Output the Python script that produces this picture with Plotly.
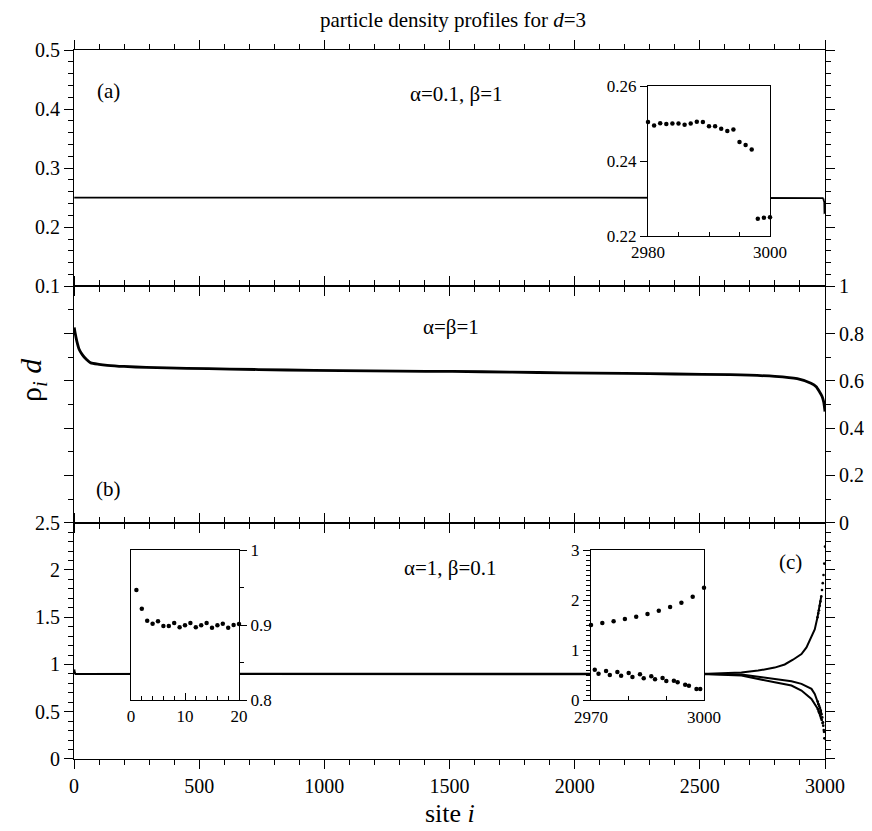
import plotly.graph_objects as go

# ---------------- data ----------------
# panel (a): alpha=0.1, beta=1 (coarse bulk samples) + inset (last 21 sites)
a_bulk_site = [1, 300, 600, 900, 1200, 1500, 1800, 2100, 2400, 2700, 2979]
a_bulk_rho = [0.2500, 0.2502, 0.2499, 0.2501, 0.2500, 0.2499, 0.2501, 0.2500, 0.2499, 0.2501, 0.2500]
a_inset_site = [2980, 2981, 2982, 2983, 2984, 2985, 2986, 2987, 2988, 2989, 2990,
                2991, 2992, 2993, 2994, 2995, 2996, 2997, 2998, 2999, 3000]
a_inset_rho = [0.2504, 0.2495, 0.2501, 0.2499, 0.2500, 0.2500, 0.2497, 0.2500, 0.2505, 0.2504, 0.2493,
               0.2493, 0.2486, 0.2480, 0.2484, 0.2451, 0.2443, 0.2431, 0.2246, 0.2249, 0.2250]

# panel (b): alpha=beta=1
b_site = [1, 5, 11, 20, 33, 50, 67, 100, 133, 200, 289, 450, 622, 850, 1067, 1300, 1511, 1750, 1956,
          2200, 2400, 2622, 2800, 2889, 2944, 2965, 2978, 2988, 2995, 3000]
b_rho = [0.826, 0.800, 0.769, 0.735, 0.711, 0.690, 0.676, 0.670, 0.666, 0.661, 0.657, 0.653, 0.650,
         0.646, 0.643, 0.641, 0.640, 0.637, 0.634, 0.632, 0.629, 0.626, 0.619, 0.609, 0.590, 0.575,
         0.554, 0.535, 0.510, 0.470]

# panel (c): alpha=1, beta=0.1 -- inset near site 0
c_left_site = list(range(1, 21))
c_left_rho = [0.9467, 0.9218, 0.9058, 0.9018, 0.9049, 0.8987, 0.8987, 0.9027, 0.8969, 0.8996,
              0.9027, 0.8969, 0.8996, 0.9027, 0.8964, 0.8996, 0.9018, 0.8964, 0.9000, 0.9013]
# panel (c): three sub-lattices near the right end (inset c)
c_up_end_site = [2970, 2973, 2976, 2979, 2982, 2985, 2988, 2991, 2994, 2997, 3000]
c_up_end_rho = [1.500, 1.540, 1.573, 1.620, 1.667, 1.720, 1.787, 1.860, 1.947, 2.067, 2.247]
c_mid_end_site = [2971, 2974, 2977, 2980, 2983, 2986, 2989, 2992, 2995, 2998]
c_mid_end_rho = [0.607, 0.580, 0.560, 0.540, 0.513, 0.473, 0.440, 0.387, 0.307, 0.220]
c_low_end_site = [2972, 2975, 2978, 2981, 2984, 2987, 2990, 2993, 2996, 2999]
c_low_end_rho = [0.527, 0.500, 0.487, 0.460, 0.433, 0.413, 0.380, 0.353, 0.287, 0.220]
# panel (c): bulk of the three sub-lattices
c_up_site = [21, 500, 1000, 1500, 2000, 2400, 2533, 2666, 2733, 2799, 2839, 2872, 2906, 2926, 2946, 2959]
c_up_rho = [0.900, 0.900, 0.900, 0.900, 0.900, 0.900, 0.902, 0.914, 0.935, 0.967, 1.000, 1.050,
            1.110, 1.180, 1.290, 1.370]
c_mid_site = [21, 500, 1000, 1500, 2000, 2400, 2533, 2666, 2733, 2799, 2866, 2906, 2946, 2959]
c_mid_rho = [0.900, 0.900, 0.900, 0.900, 0.900, 0.900, 0.898, 0.893, 0.872, 0.847, 0.823, 0.795,
             0.742, 0.689]
c_low_site = [21, 500, 1000, 1500, 2000, 2400, 2533, 2666, 2733, 2799, 2866, 2906, 2946, 2959]
c_low_rho = [0.900, 0.900, 0.900, 0.900, 0.900, 0.900, 0.896, 0.882, 0.850, 0.812, 0.777, 0.724,
             0.636, 0.584]

x_major = [0, 500, 1000, 1500, 2000, 2500, 3000]

# ---------------- figure ----------------
FONT = "Liberation Serif"
W, H = 872, 831
ML, MR, MT, MB = 66, 55, 42, 80
PW, PH = W - ML - MR, H - MT - MB


def px_x(x):
    return (x - ML) / PW


def px_y(y):
    return (H - MB - y) / PH


fig = go.Figure()
blk = "black"

# panel (a)
fig.add_trace(go.Scatter(x=a_bulk_site + a_inset_site, y=a_bulk_rho + a_inset_rho, mode="lines",
                         line=dict(color=blk, width=1.8), xaxis="x", yaxis="y", showlegend=False))
# panel (b)
fig.add_trace(go.Scatter(x=b_site, y=b_rho, mode="lines",
                         line=dict(color=blk, width=2.8, shape="spline", smoothing=0.6),
                         xaxis="x2", yaxis="y2", showlegend=False))
# panel (c): the three sub-lattice profiles (lines in the bulk, dots where they spread out)
n_up = 6
fig.add_trace(go.Scatter(x=c_left_site + c_mid_site + c_mid_end_site[:6], y=c_left_rho + c_mid_rho + c_mid_end_rho[:6],
                         mode="lines", line=dict(color=blk, width=2.0), xaxis="x3", yaxis="y3", showlegend=False))
fig.add_trace(go.Scatter(x=c_up_site + c_up_end_site[:n_up], y=c_up_rho + c_up_end_rho[:n_up],
                         mode="lines", line=dict(color=blk, width=2.0), xaxis="x3", yaxis="y3", showlegend=False))
fig.add_trace(go.Scatter(x=c_low_site + c_low_end_site[:6], y=c_low_rho + c_low_end_rho[:6],
                         mode="lines", line=dict(color=blk, width=2.0), xaxis="x3", yaxis="y3", showlegend=False))
fig.add_trace(go.Scatter(x=c_up_end_site + c_mid_end_site + c_low_end_site,
                         y=c_up_end_rho + c_mid_end_rho + c_low_end_rho, mode="markers",
                         marker=dict(color=blk, size=2.6), xaxis="x3", yaxis="y3", showlegend=False))

# insets
mk = dict(color=blk, size=4.5)
fig.add_trace(go.Scatter(x=a_inset_site, y=a_inset_rho, mode="markers", marker=mk,
                         xaxis="x4", yaxis="y4", cliponaxis=False, showlegend=False))
fig.add_trace(go.Scatter(x=c_left_site, y=c_left_rho, mode="markers", marker=mk,
                         xaxis="x5", yaxis="y5", cliponaxis=False, showlegend=False))
fig.add_trace(go.Scatter(x=c_up_end_site + c_mid_end_site + c_low_end_site,
                         y=c_up_end_rho + c_mid_end_rho + c_low_end_rho, mode="markers", marker=mk,
                         xaxis="x6", yaxis="y6", cliponaxis=False, showlegend=False))

tickfont = dict(family=FONT, size=20, color=blk)
itickfont = dict(family=FONT, size=17, color=blk)

bnd1 = 1 / 3
bnd2 = 2 / 3
LW = 1.1


def main_x(anchor, labels):
    return dict(domain=[0, 1], anchor=anchor, range=[0, 3000], tickvals=x_major,
                showticklabels=labels, ticks="outside", ticklen=9, tickwidth=1.3, tickcolor=blk,
                minor=dict(dtick=100, tick0=0, ticklen=5, tickwidth=1.1, tickcolor=blk, ticks="outside"),
                showline=True, linecolor=blk, linewidth=LW, mirror="allticks", showgrid=False,
                zeroline=False, tickfont=tickfont)


def main_y(anchor, dom, rng, tv, mdt, side="left", labels=True):
    return dict(domain=dom, anchor=anchor, range=rng, tickvals=tv, side=side,
                showticklabels=labels, ticks="outside", ticklen=9, tickwidth=1.3, tickcolor=blk,
                minor=dict(dtick=mdt, tick0=0, ticklen=5, tickwidth=1.1, tickcolor=blk, ticks="outside"),
                showline=True, linecolor=blk, linewidth=LW, mirror="allticks", showgrid=False,
                zeroline=False, tickfont=tickfont)


def inset_ax(anchor, dom, rng, tv, tt, ticks, mdt, side, standoff=None):
    d = dict(domain=dom, anchor=anchor, range=rng, tickvals=tv, ticktext=tt, side=side,
             ticks=ticks, ticklen=7, tickwidth=1.1, tickcolor=blk,
             showline=True, linecolor=blk, linewidth=1.3, mirror=True, showgrid=False,
             zeroline=False, tickfont=itickfont)
    if mdt:
        d["minor"] = dict(dtick=mdt, tick0=rng[0], ticklen=4, tickwidth=1.0, tickcolor=blk, ticks=ticks)
    if standoff is not None:
        d["ticklabelstandoff"] = standoff
    return d


fig.update_layout(
    width=W, height=H, margin=dict(l=ML, r=MR, t=MT, b=MB),
    paper_bgcolor="white", plot_bgcolor="white",
    font=dict(family=FONT, color=blk, size=20),
    xaxis=main_x("y", False),
    xaxis2=main_x("y2", False),
    xaxis3=main_x("y3", True),
    yaxis=main_y("x", [bnd2, 1], [0.1, 0.5], [0.1, 0.2, 0.3, 0.4, 0.5], 0.02),
    yaxis2=main_y("x2", [bnd1, bnd2], [0, 1], [0, 0.2, 0.4, 0.6, 0.8, 1], 0.1, side="right"),
    yaxis3=main_y("x3", [0, bnd1], [0, 2.5], [0, 0.5, 1, 1.5, 2, 2.5], 0.1),
    xaxis4=inset_ax("y4", [px_x(640), px_x(762)], [2980, 3000], [2980, 3000], ["2980", "3000"], "inside", 5, "bottom"),
    yaxis4=inset_ax("x4", [px_y(228), px_y(78)], [0.22, 0.26], [0.22, 0.24, 0.26], ["0.22", "0.24", "0.26"], "outside", None, "left"),
    xaxis5=inset_ax("y5", [px_x(123), px_x(231)], [0, 20], [0, 10, 20], ["0", "10", "20"], "inside", 2, "bottom"),
    yaxis5=inset_ax("x5", [px_y(692), px_y(542)], [0.8, 1.0], [0.8, 0.9, 1.0], ["0.8", "0.9", "1"], "outside", 0.05, "right"),
    xaxis6=inset_ax("y6", [px_x(583), px_x(696)], [2970, 3000], [2970, 3000], ["2970", "3000"], "inside", 10, "bottom", 1),
    yaxis6=inset_ax("x6", [px_y(692), px_y(542)], [0, 3], [0, 1, 2, 3], ["0", "1", "2", "3"], "outside", 0.1, "left"),
)

ann_font = dict(family=FONT, size=21, color=blk)
anns = [
    dict(text="particle density profiles for <i>d</i>=3", x=0.505, y=px_y(12), xref="paper", yref="paper",
         font=dict(family=FONT, size=21, color=blk)),
    dict(text="(a)", x=136, y=0.43, xref="x", yref="y", font=ann_font),
    dict(text="α=0.1, β=1", x=1526, y=0.426, xref="x", yref="y", font=ann_font),
    dict(text="α=β=1", x=1506, y=0.83, xref="x2", yref="y2", font=ann_font),
    dict(text="(b)", x=136, y=0.142, xref="x2", yref="y2", font=ann_font),
    dict(text="α=1, β=0.1", x=1505, y=2.02, xref="x3", yref="y3", font=ann_font),
    dict(text="(c)", x=2864, y=2.08, xref="x3", yref="y3", font=ann_font),
    dict(text="site <i>i</i>", x=0.5, y=px_y(805), xref="paper", yref="paper",
         font=dict(family=FONT, size=26, color=blk)),
    dict(text="ρ<sub><i>i</i></sub> <i>d</i>", x=px_x(25), y=px_y(372), xref="paper", yref="paper",
         textangle=-90, font=dict(family=FONT, size=30, color=blk)),
]
for a in anns:
    a.update(showarrow=False, xanchor="center", yanchor="middle")
fig.update_layout(annotations=anns)

fig.write_html("out.html")
